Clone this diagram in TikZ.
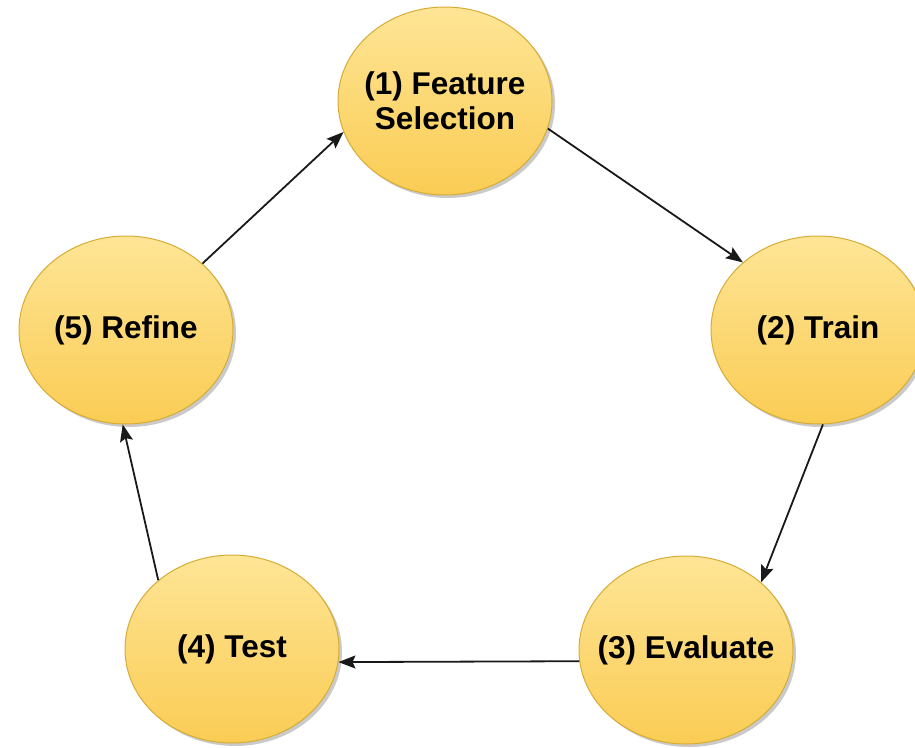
\documentclass[tikz,border=0pt]{standalone}
\usepackage{fontspec}
\setmainfont{Liberation Sans}
\usetikzlibrary{shapes.geometric,arrows.meta,shadows}
\definecolor{ytop}{RGB}{254,229,150}
\definecolor{ybot}{RGB}{250,204,84}
\definecolor{yborder}{RGB}{214,172,52}
\definecolor{edgecol}{RGB}{25,25,25}
\newcommand{\ctr}[1]{\makebox[0pt][c]{#1}}
\tikzset{
  stage/.style={ellipse, draw=yborder, line width=1pt, inner sep=0pt,
    top color=ytop, bottom color=ybot,
    minimum width=214pt, minimum height=188pt,
    font=\fontsize{31.5}{35}\selectfont\bfseries, align=center, text=black,
    drop shadow={shadow xshift=3pt, shadow yshift=-3pt, opacity=0.35, fill=black!60}},
  flow/.style={draw=edgecol, line width=1.8pt,
    -{Stealth[length=17pt,width=13pt,inset=3pt]}}
}
\begin{document}
\begin{tikzpicture}[x=1pt,y=1pt]
\clip (0,0) rectangle (915,-747);
\useasboundingbox (0,0) rectangle (915,-747);
\node[stage] (n1) at (445,-101) {\ctr{(1) Feature}\\\ctr{Selection}};
\node[stage] (n2) at (818,-330) {\ctr{(2) Train}};
\node[stage] (n3) at (686,-650) {\ctr{(3) Evaluate}};
\node[stage] (n4) at (232,-649) {\ctr{(4) Test}};
\node[stage] (n5) at (126,-330) {\ctr{(5) Refine}};
\draw[flow] (n1.-15) -- (n2.138.6);
\draw[flow] (n2.-87) -- (n3.42.6);
\draw[flow] (n3.186.5) -- (n4.-7.0);
\draw[flow] (n4.137.4) -- (n5.-92.4);
\draw[flow] (n5.41.4) -- (n1.197.5);
\end{tikzpicture}
\end{document}
